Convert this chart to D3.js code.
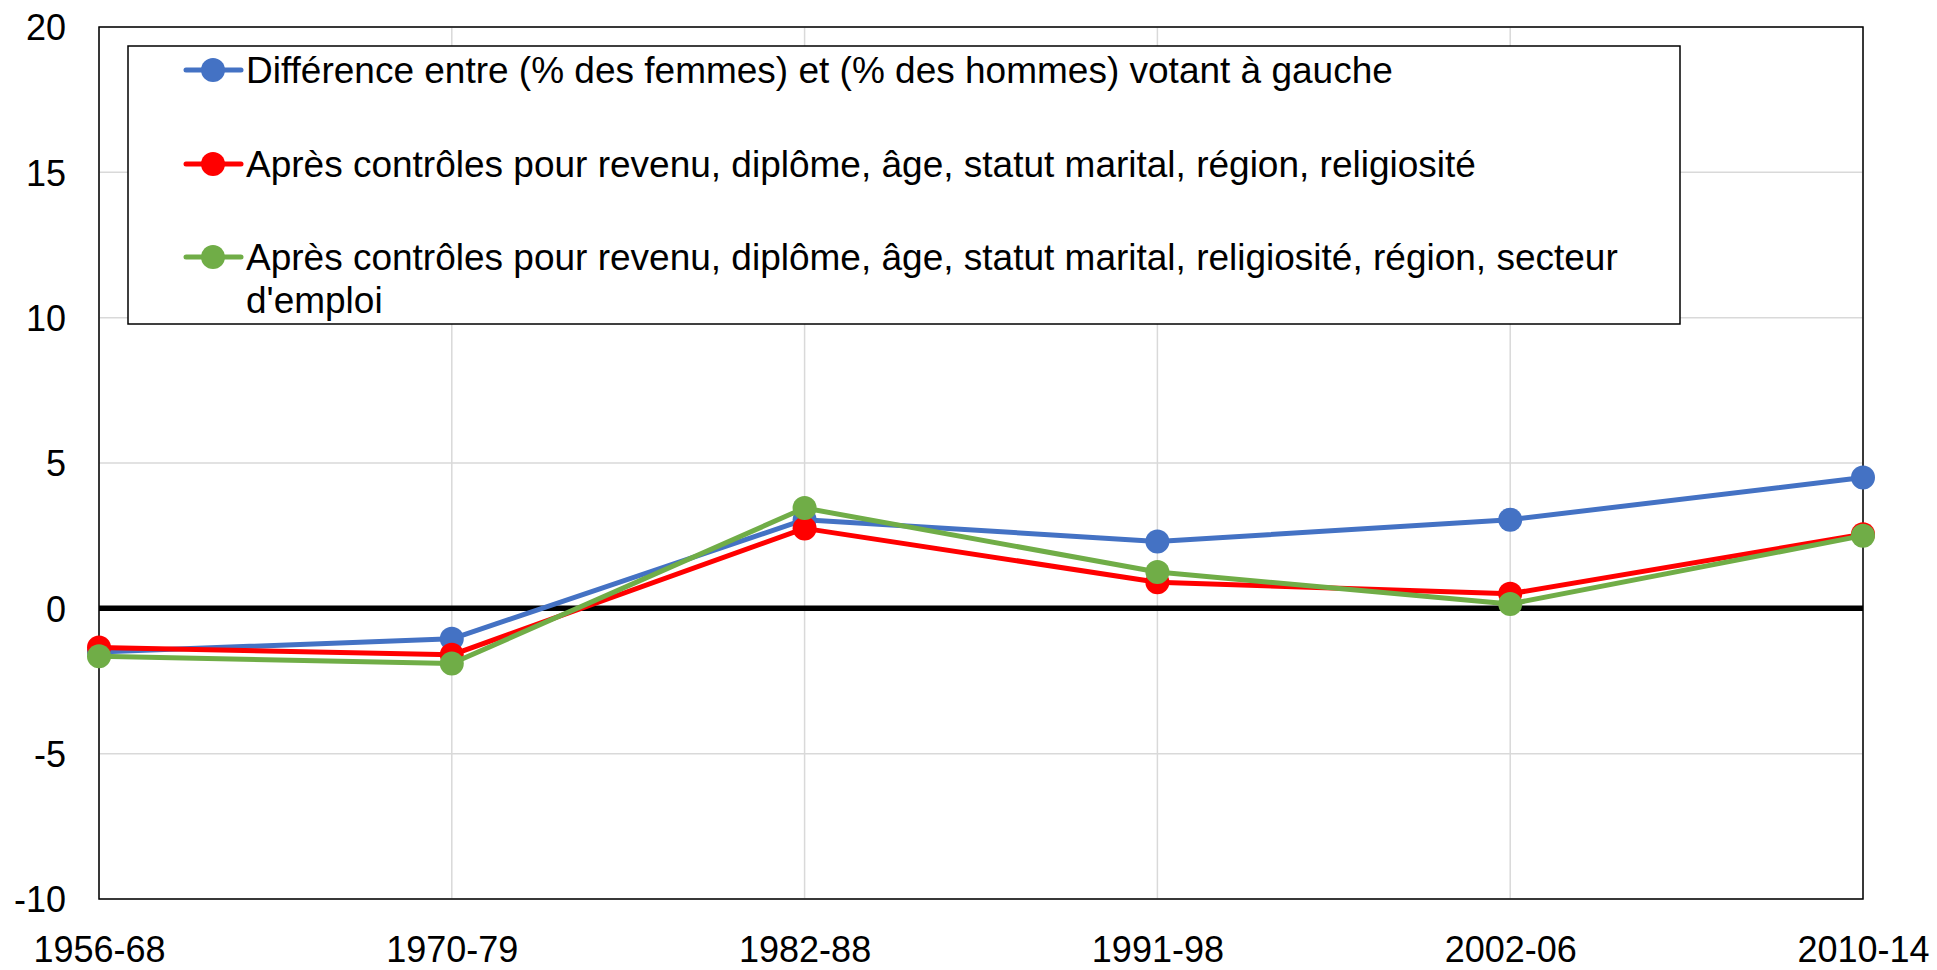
<!DOCTYPE html>
<html>
<head>
<meta charset="utf-8">
<script src="https://cdn.jsdelivr.net/npm/d3@7"></script>
<style>
  html, body { margin: 0; padding: 0; background: #fff; }
  svg { display: block; }
  text { font-family: "Liberation Sans", Arial, sans-serif; fill: #000; }
</style>
</head>
<body>
<svg id="chart" width="1937" height="970"></svg>
<script>
const categories = ["1956-68", "1970-79", "1982-88", "1991-98", "2002-06", "2010-14"];
const seriesNames = [
  "Différence entre (% des femmes) et (% des hommes) votant à gauche",
  "Après contrôles pour revenu, diplôme, âge, statut marital, région, religiosité",
  "Après contrôles pour revenu, diplôme, âge, statut marital, religiosité, région, secteur d'emploi"
];
const blueValues  = [-1.5, -1.05, 3.05, 2.3, 3.05, 4.5];
const redValues   = [-1.35, -1.6, 2.75, 0.9, 0.5, 2.55];
const greenValues = [-1.65, -1.9, 3.45, 1.25, 0.15, 2.5];
const yTicks = [-10, -5, 0, 5, 10, 15, 20];
const colors = ["#4472C4", "#FF0000", "#70AD47"];

const series = [blueValues, redValues, greenValues].map((v, i) => ({ name: seriesNames[i], values: v, color: colors[i] }));

const svg = d3.select("#chart");
const pLeft = 99, pRight = 1863, pTop = 27, pBottom = 899;

const x = d3.scalePoint().domain(categories).range([pLeft, pRight]).padding(0);
const y = d3.scaleLinear().domain([-10, 20]).range([pBottom, pTop]);

// gridlines
svg.append("g").selectAll("line").data(yTicks).join("line")
  .attr("x1", pLeft).attr("x2", pRight)
  .attr("y1", d => y(d)).attr("y2", d => y(d))
  .attr("stroke", "#d9d9d9").attr("stroke-width", 1.5);
svg.append("g").selectAll("line").data(categories).join("line")
  .attr("x1", d => x(d)).attr("x2", d => x(d))
  .attr("y1", pTop).attr("y2", pBottom)
  .attr("stroke", "#d9d9d9").attr("stroke-width", 1.5);

// plot border
svg.append("rect").attr("x", pLeft).attr("y", pTop)
  .attr("width", pRight - pLeft).attr("height", pBottom - pTop)
  .attr("fill", "none").attr("stroke", "#000").attr("stroke-width", 1.5);

// zero line
svg.append("line").attr("x1", pLeft).attr("x2", pRight)
  .attr("y1", y(0)).attr("y2", y(0))
  .attr("stroke", "#000").attr("stroke-width", 5.5);

// axes
const yAxis = d3.axisLeft(y).tickValues(yTicks).tickSize(0).tickPadding(0).tickFormat(d => String(d));
const gy = svg.append("g").attr("transform", `translate(${pLeft - 33},0)`).call(yAxis);
gy.select(".domain").remove();
gy.selectAll("text").style("font-size", "36px").attr("dy", "0.36em").style("font-family", "Liberation Sans, Arial, sans-serif");

const xAxis = d3.axisBottom(x).tickSize(0).tickPadding(0);
const gx = svg.append("g").attr("transform", `translate(0,${pBottom + 50})`).call(xAxis);
gx.select(".domain").remove();
gx.selectAll("text").style("font-size", "36px").attr("y", 0).attr("dy", "0.36em").style("font-family", "Liberation Sans, Arial, sans-serif");

// legend box
const lg = svg.append("g");
lg.append("rect").attr("x", 128).attr("y", 46).attr("width", 1552).attr("height", 278)
  .attr("fill", "#fff").attr("stroke", "#000").attr("stroke-width", 1.5);

// lines and markers
const line = d3.line().x((d, i) => x(categories[i])).y(d => y(d));
series.forEach(s => {
  svg.append("path").datum(s.values).attr("d", line)
    .attr("fill", "none").attr("stroke", s.color).attr("stroke-width", 5)
    .attr("stroke-linejoin", "round");
  svg.append("g").selectAll("circle").data(s.values).join("circle")
    .attr("cx", (d, i) => x(categories[i])).attr("cy", d => y(d))
    .attr("r", 12).attr("fill", s.color);
});

// legend entries
const legendRows = [70, 164, 257];
series.forEach((s, i) => {
  const ly = legendRows[i];
  lg.append("line").attr("x1", 186).attr("x2", 241).attr("y1", ly).attr("y2", ly)
    .attr("stroke", s.color).attr("stroke-width", 5).attr("stroke-linecap", "round");
  lg.append("circle").attr("cx", 213).attr("cy", ly).attr("r", 12).attr("fill", s.color);
});
const legendText = [
  [seriesNames[0]],
  [seriesNames[1]],
  ["Après contrôles pour revenu, diplôme, âge, statut marital, religiosité, région, secteur", "d'emploi"]
];
legendText.forEach((lines, i) => {
  lines.forEach((t, j) => {
    lg.append("text").attr("x", 246).attr("y", legendRows[i] + j * 43)
      .attr("dy", "0.36em").style("font-size", "37px").text(t);
  });
});
</script>
</body>
</html>
